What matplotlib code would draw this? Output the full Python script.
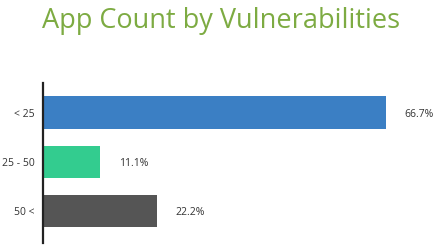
import matplotlib
matplotlib.use("Agg")
import matplotlib.pyplot as plt

# Datos
categories = ["< 25", "25 - 50", "50 <"]
values = [66.7, 11.1, 22.2]
labels = ["66.7%", "11.1%", "22.2%"]
colors = ["#3b7fc4", "#33cc8f", "#555555"]

plt.rcParams['font.family'] = ['Open Sans', 'DejaVu Sans']

fig = plt.figure(figsize=(4.43, 2.46), dpi=100)
ax = fig.add_axes([43 / 443, 3 / 246, 397 / 443, 160 / 246])

pos = range(len(categories))
ax.barh(pos, values, height=0.66, color=colors)
for p, v, lab in zip(pos, values, labels):
    ax.text(v + 3.6, p + 0.04, lab, va='center', ha='left', fontsize=7.5, color='#333333')

ax.set_yticks(list(pos))
ax.set_yticklabels(categories, fontsize=7.5, color='#333333')
ax.tick_params(axis='y', length=0, pad=6)
ax.set_xticks([])
ax.set_xlim(0, 77.2)
ax.set_ylim(2.65, -0.6)
for s in ['top', 'right', 'bottom']:
    ax.spines[s].set_visible(False)
ax.spines['left'].set_linewidth(1.6)
ax.spines['left'].set_color('#222222')

fig.text(0.5, 0.915, "App Count by Vulnerabilities", ha='center', va='center',
         fontsize=19.5, color='#7dab42')

fig.savefig("out.png", dpi=100)
